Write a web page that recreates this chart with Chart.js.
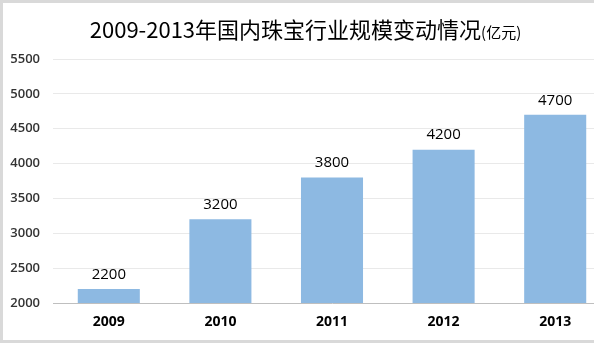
<!DOCTYPE html>
<html>
<head>
<meta charset="utf-8">
<script src="https://cdn.jsdelivr.net/npm/chart.js@4/dist/chart.umd.min.js"></script>
<style>
  html, body { margin: 0; padding: 0; background: #fff; overflow: hidden; }
  #wrap { position: relative; width: 594px; height: 343px; overflow: hidden; }
  #box { position: absolute; left: 0; top: 0; width: 611px; height: 343px; }
  #title {
    position: absolute; left: 0; top: 14px; width: 611px; text-align: center;
    font-family: "Noto Sans CJK SC", sans-serif; font-size: 22px; color: #000;
    line-height: 28px; white-space: nowrap;
  }
  #title small { font-size: 15px; }
  #frame {
    position: absolute; left: 0; top: 0; width: 620px; height: 343px;
    box-sizing: border-box; border: 3px solid #d9d9d9; pointer-events: none;
  }
</style>
</head>
<body>
<div id="wrap">
  <div id="box"><canvas id="chart" width="611" height="343"></canvas></div>
  <div id="title">2009-2013年国内珠宝行业规模变动情况<small>(亿元)</small></div>
  <div id="frame"></div>
</div>
<script>
const years = ["2009", "2010", "2011", "2012", "2013"];
const scale = [2200, 3200, 3800, 4200, 4700];
const yTicks = [2000, 2500, 3000, 3500, 4000, 4500, 5000, 5500];

// value labels above each bar
const barLabels = {
  id: "barLabels",
  afterDatasetsDraw(chart) {
    const ctx = chart.ctx;
    const meta = chart.getDatasetMeta(0);
    ctx.save();
    ctx.font = "15px 'Open Sans', sans-serif";
    ctx.fillStyle = "#000";
    ctx.textAlign = "center";
    ctx.textBaseline = "bottom";
    meta.data.forEach((bar, i) => {
      ctx.fillText(String(scale[i]), bar.x, bar.y - 7);
    });
    ctx.restore();
  }
};

const ctx = document.getElementById("chart").getContext("2d");
new Chart(ctx, {
  type: "bar",
  data: {
    labels: years,
    datasets: [{
      data: scale,
      backgroundColor: "#8db9e2",
      barPercentage: 0.556,
      categoryPercentage: 1
    }]
  },
  options: {
    responsive: false,
    animation: false,
    layout: { padding: { left: 0, right: 0, top: 59, bottom: 10 } },
    plugins: {
      legend: { display: false },
      tooltip: { enabled: false },
      title: { display: false }
    },
    scales: {
      x: {
        grid: { display: false, drawTicks: false },
        border: { color: "#bfbfbf", width: 1 },
        ticks: {
          padding: 11,
          color: "#000",
          font: { family: "'Open Sans', sans-serif", size: 14, weight: "bold" }
        },
        afterFit(s) { s.height = 30; }
      },
      y: {
        min: 2000,
        max: 5500,
        afterBuildTicks(s) { s.ticks = yTicks.map(v => ({ value: v })); },
        grid: {
          drawTicks: false,
          color: (c) => c.tick && c.tick.value === 2000 ? "rgba(0,0,0,0)" : "#e9e9e9"
        },
        border: { display: false },
        ticks: {
          padding: 13,
          color: "#333",
          font: { family: "'Open Sans', sans-serif", size: 13, weight: "600" },
          callback: (v) => String(v)
        },
        afterFit(s) { s.width = 53; }
      }
    }
  },
  plugins: [barLabels]
});
</script>
</body>
</html>
